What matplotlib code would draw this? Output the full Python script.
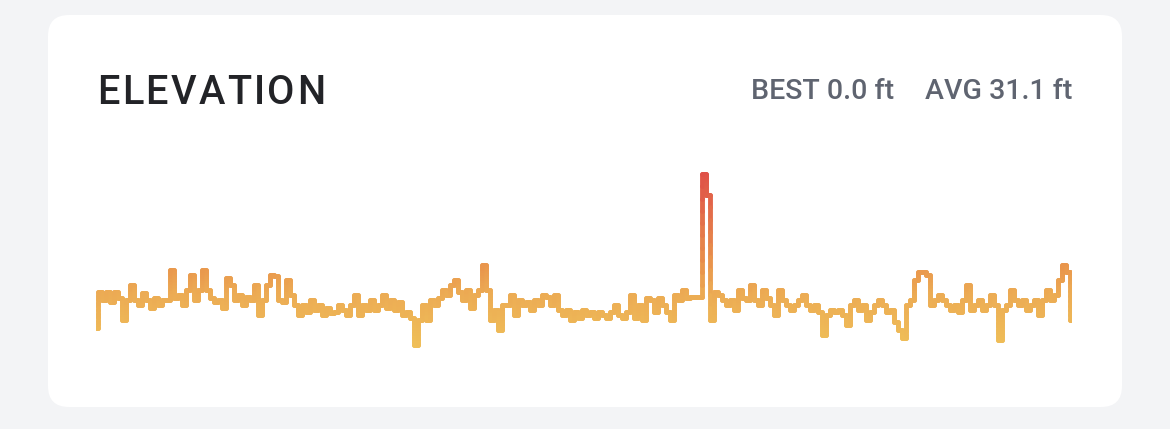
import numpy as np
import matplotlib
matplotlib.use("Agg")
import matplotlib.pyplot as plt
from matplotlib.collections import LineCollection
from matplotlib.colors import LinearSegmentedColormap
from matplotlib.patches import FancyBboxPatch

title = "ELEVATION"
stat_labels = ["BEST 0.0 ft", "AVG 31.1 ft"]

elevation_ft = [
    26.5, 33.7, 32.1, 33.7, 31.7, 33.7, 32.5, 28.1, 32.1, 35.1,
    32.1, 31.1, 33.5, 32.1, 30.5, 32.5, 31.1, 32.1, 32.1, 38.1,
    32.5, 33.1, 31.1, 34.1, 37.1, 32.1, 34.1, 38.1, 34.1, 32.5,
    31.7, 32.1, 30.5, 36.5, 35.1, 32.1, 33.1, 31.1, 32.7, 32.1,
    35.1, 29.1, 32.1, 35.1, 37.1, 36.9, 32.1, 31.7, 36.1, 33.1,
    31.1, 29.1, 31.1, 29.7, 32.1, 30.1, 31.1, 29.1, 30.5, 29.5,
    29.7, 31.1, 30.1, 29.1, 31.1, 33.1, 29.1, 31.1, 30.1, 32.1,
    30.1, 31.1, 33.1, 30.5, 32.1, 30.1, 31.7, 29.1, 29.7, 28.5,
    23.1, 28.1, 31.1, 28.1, 32.1, 31.1, 32.5, 34.1, 33.1, 35.1,
    36.1, 33.7, 32.1, 34.1, 30.5, 33.1, 34.1, 39.1, 34.1, 28.1,
    30.1, 26.1, 31.1, 31.1, 33.1, 29.1, 32.1, 31.1, 31.7, 30.1,
    32.1, 31.1, 33.1, 32.7, 31.1, 33.1, 30.1, 29.1, 30.1, 28.1,
    29.7, 28.5, 30.1, 29.1, 29.7, 28.5, 29.7, 29.1, 28.5, 29.7,
    31.1, 29.1, 28.5, 29.7, 33.1, 28.5, 31.1, 28.1, 32.5, 32.1,
    29.7, 32.5, 31.1, 29.7, 28.1, 33.1, 32.1, 34.1, 32.5, 32.7,
    32.7, 32.7, 57.3, 53.1, 28.1, 33.7,
    33.1, 32.1, 31.1, 32.1, 30.1, 34.1, 32.5, 32.1, 35.1, 32.1,
    31.1, 34.1, 32.5, 31.1, 29.1, 34.1, 32.1, 31.1, 30.1, 31.1,
    32.1, 33.1, 31.1, 30.1, 31.1, 29.7, 25.1, 29.1, 30.1, 29.7,
    30.1, 29.1, 27.1, 31.1, 32.1, 30.1, 31.1, 28.1, 29.7, 31.1,
    32.1, 31.1, 29.7, 30.1, 27.7, 26.1, 24.5, 31.1, 32.1, 36.1,
    37.7, 37.7, 37.1, 31.1, 32.1, 33.1, 32.1, 31.1, 30.1, 31.1,
    29.7, 32.1, 35.1, 30.1, 31.1, 32.1, 30.1, 31.1, 33.1, 31.1,
    24.1, 30.1, 31.1, 34.1, 32.1, 31.1, 32.1, 30.1, 31.1, 32.1,
    29.1, 32.1, 34.1, 32.1, 33.1, 36.1, 39.1, 37.7, 28.1,
]

W, H = 1170, 429
fig = plt.figure(figsize=(W / 100, H / 100), dpi=100)
fig.patch.set_facecolor("#F3F4F6")

# card
card = FancyBboxPatch((48 / W, 1 - 407 / H), (1122 - 48) / W, (407 - 15) / H,
                      boxstyle="round,pad=0,rounding_size=0.018",
                      transform=fig.transFigure, facecolor="white",
                      edgecolor="none", mutation_aspect=W / H, zorder=-5)
fig.patches.append(card)

# title with letter spacing
renderer = fig.canvas.get_renderer()
tprops = dict(fontsize=28.5, color="#222327", family=["Roboto", "DejaVu Sans"],
              fontweight="medium", va="baseline", ha="left")
x0, x1 = 97, 325
probe = fig.text(0, 0, title, **tprops)
natural = probe.get_window_extent(renderer).width
probe.remove()
track = (x1 - x0 - natural) / (len(title) - 1)
for i, ch in enumerate(title):
    if i == 0:
        pw = 0
    else:
        p = fig.text(0, 0, title[:i], **tprops)
        pw = p.get_window_extent(renderer).width
        p.remove()
    fig.text((x0 + pw + i * track) / W, 1 - 104 / H, ch, **tprops)

sprops = dict(fontsize=20.5, color="#5F6470", family=["Roboto", "DejaVu Sans"],
              fontweight="medium", va="baseline")
fig.text(894 / W, 1 - 99 / H, stat_labels[0], ha="right", **sprops)
fig.text(1072 / W, 1 - 99 / H, stat_labels[1], ha="right", **sprops)

# chart
ax = fig.add_axes([96 / W, 1 - 360 / H, (1072 - 96) / W, 210 / H])
ax.set_zorder(5)
ax.set_facecolor("none")
y = np.array(elevation_ft, dtype=float)
x = np.arange(len(y))
ax.set_xlim(0, len(y) - 1)
ax.set_ylim(20.1, 62.1)
ax.axis("off")

# step-shaped path (mid steps)
px, py = [x[0]], [y[0]]
for i in range(len(y) - 1):
    xm = (x[i] + x[i + 1]) / 2
    px += [xm, xm]
    py += [y[i], y[i + 1]]
px.append(x[-1]); py.append(y[-1])
px = np.array(px, float); py = np.array(py, float)

# subdivide for a smooth vertical gradient
xs, ys = [], []
for i in range(len(px) - 1):
    t = np.linspace(0, 1, 10, endpoint=False)
    xs.append(px[i] + t * (px[i + 1] - px[i]))
    ys.append(py[i] + t * (py[i + 1] - py[i]))
xs.append([px[-1]]); ys.append([py[-1]])
xs = np.concatenate(xs); ys = np.concatenate(ys)
pts = np.column_stack([xs, ys]).reshape(-1, 1, 2)
segs = np.concatenate([pts[:-1], pts[1:]], axis=1)

cmap = LinearSegmentedColormap.from_list(
    "elev", [(0.0, "#EFBF58"), (0.3, "#ECAB54"), (0.45, "#E9964C"),
             (0.7, "#E4744A"), (1.0, "#DF4F48")])
norm = plt.Normalize(23, 58)
lc = LineCollection(segs, cmap=cmap, norm=norm, linewidths=3.5,
                    capstyle="round", joinstyle="round")
lc.set_array((segs[:, 0, 1] + segs[:, 1, 1]) / 2)
ax.add_collection(lc)

fig.savefig("out.png", dpi=100, facecolor=fig.get_facecolor())
